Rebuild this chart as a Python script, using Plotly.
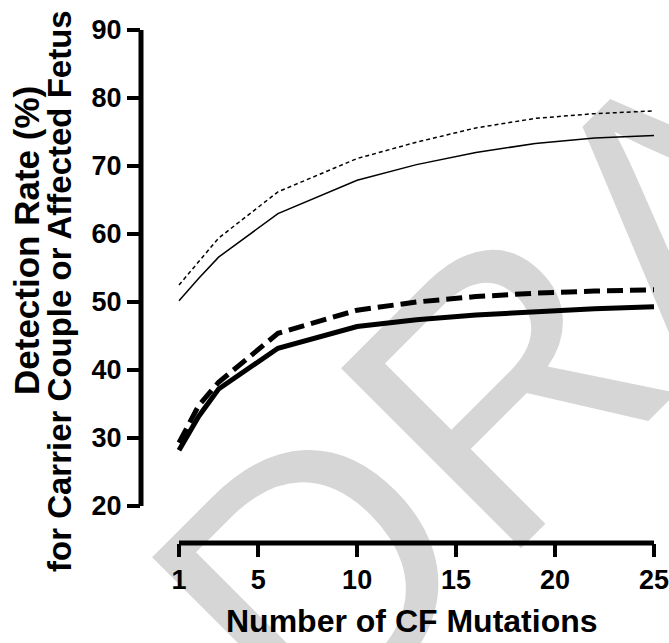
import plotly.graph_objects as go

# ---- data ----
mutations = [1, 2, 3, 6, 10, 13, 16, 19, 22, 25]
thin_solid = [50.2, 53.5, 56.6, 63.0, 67.9, 70.2, 72.0, 73.3, 74.1, 74.5]
thin_dashed = [52.5, 56.0, 59.4, 66.2, 71.1, 73.5, 75.6, 77.0, 77.7, 78.1]
thick_solid = [28.2, 33.2, 37.2, 43.2, 46.4, 47.4, 48.1, 48.6, 49.0, 49.3]
thick_dashed = [29.3, 34.8, 38.2, 45.4, 48.8, 50.0, 50.8, 51.3, 51.6, 51.8]

x_ticks = [1, 5, 10, 15, 20, 25]
y_ticks = [20, 30, 40, 50, 60, 70, 80, 90]

FONT = "Liberation Sans, Arial, sans-serif"
W, H = 669, 643
PL, PR, PT, PB = 141, 660, 20, 543
L, R, T, B = PL, W - PR, PT, H - PB
PW, PH = PR - PL, PB - PT


def px_x(px):
    return (px - PL) / PW


def px_y(py):
    return (PB - py) / PH


fig = go.Figure()

fig.add_trace(go.Scatter(x=mutations, y=thin_dashed, mode="lines",
                         line=dict(color="black", width=1.5, dash="4px,3px")))
fig.add_trace(go.Scatter(x=mutations, y=thin_solid, mode="lines",
                         line=dict(color="black", width=1.5)))
fig.add_trace(go.Scatter(x=mutations, y=thick_dashed, mode="lines",
                         line=dict(color="black", width=5, dash="16px,7px")))
fig.add_trace(go.Scatter(x=mutations, y=thick_solid, mode="lines",
                         line=dict(color="black", width=5)))

wm_cx, wm_cy = 631, 207
shapes = [
    # DRAFT watermark, drawn below the data
    dict(type="rect", xref="paper", yref="paper",
         x0=px_x(wm_cx - 10), x1=px_x(wm_cx + 10), y0=px_y(wm_cy + 10), y1=px_y(wm_cy - 10),
         line=dict(width=0), fillcolor="rgba(0,0,0,0)", layer="below",
         label=dict(text="DRAFT", textangle=-45, textposition="middle center",
                    font=dict(family=FONT, size=370, color="#d6d6d6"))),
    # y axis line (20..90)
    dict(type="line", xref="x domain", yref="y", x0=0, x1=0, y0=20, y1=90,
         line=dict(color="black", width=5)),
    # x axis line (1..25)
    dict(type="line", xref="x", yref="y domain", x0=1, x1=25, y0=0, y1=0,
         line=dict(color="black", width=5)),
]

annotations = [
    dict(text="Detection Rate (%)", xref="paper", yref="paper",
         x=px_x(26), y=px_y(241), textangle=-90, showarrow=False,
         xanchor="center", yanchor="middle",
         font=dict(family=FONT, size=35, color="black", weight="bold")),
    dict(text="for Carrier Couple or Affected Fetus", xref="paper", yref="paper",
         x=px_x(59), y=px_y(291), textangle=-90, showarrow=False,
         xanchor="center", yanchor="middle",
         font=dict(family=FONT, size=33, color="black", weight="bold")),
    dict(text="Number of CF Mutations", xref="paper", yref="paper",
         x=px_x(412), y=px_y(621), showarrow=False,
         xanchor="center", yanchor="middle",
         font=dict(family=FONT, size=32, color="black", weight="bold")),
]

axis_common = dict(showgrid=False, zeroline=False, showline=False, automargin=False,
                   ticks="outside", ticklen=13, tickwidth=4, tickcolor="black",
                   ticklabeloverflow="allow",
                   tickfont=dict(family=FONT, size=27, color="black", weight="bold"))

fig.update_layout(
    width=W, height=H,
    margin=dict(l=L, r=R, t=T, b=B, pad=0, autoexpand=False),
    paper_bgcolor="white", plot_bgcolor="rgba(0,0,0,0)",
    showlegend=False,
    shapes=shapes,
    annotations=annotations,
    xaxis=dict(range=[1 - (179 - PL) / 19.79, 25 + (PR - 654) / 19.79],
               tickvals=x_ticks, ticktext=[str(v) for v in x_ticks], **axis_common),
    yaxis=dict(range=[20 - (PB - 506) / 6.8, 90 + (30 - PT) / 6.8],
               tickvals=y_ticks, ticktext=[str(v) for v in y_ticks], **axis_common),
)

fig.write_html("out.html", config={"displayModeBar": False},
               post_script="document.body.style.margin='0';")
